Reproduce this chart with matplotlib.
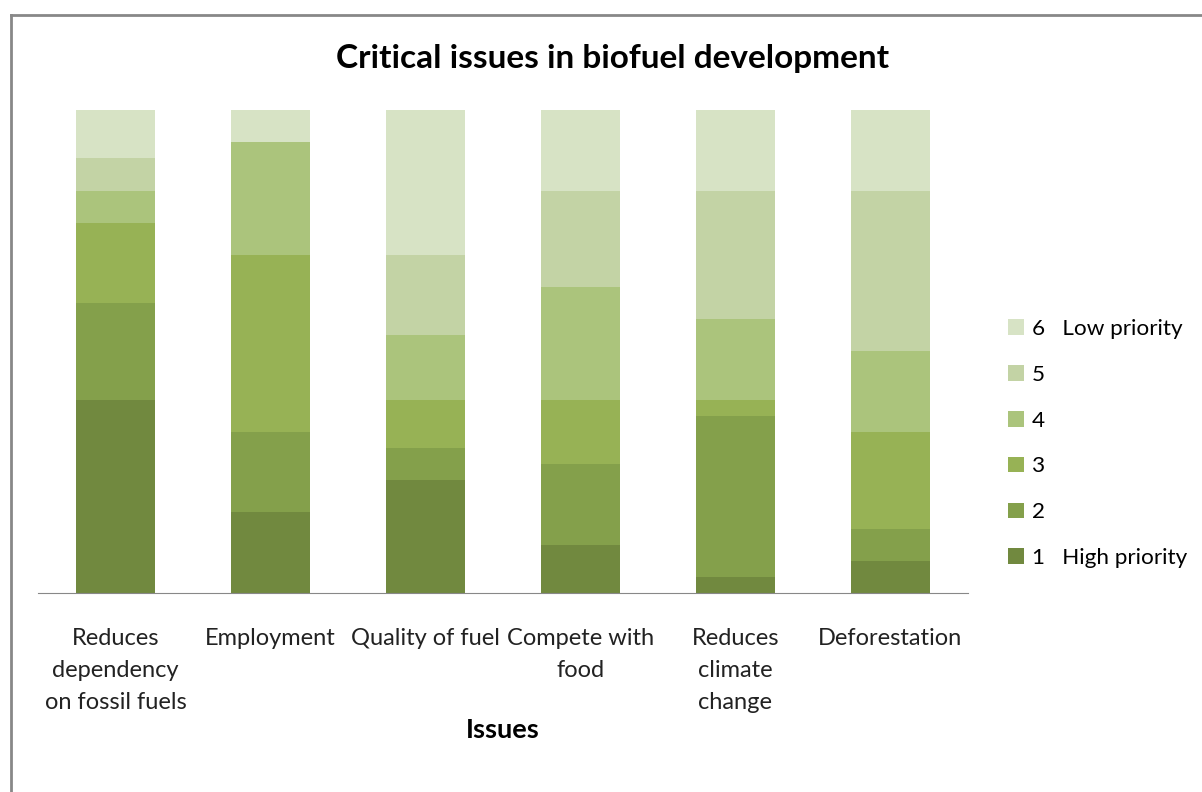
import matplotlib.pyplot as plt
from matplotlib.patches import Patch
import numpy as np

plt.rcParams['font.family'] = ['Lato', 'DejaVu Sans']

issues = ['Reduces\ndependency\non fossil fuels', 'Employment', 'Quality of fuel',
          'Compete with\nfood', 'Reduces\nclimate\nchange', 'Deforestation']

# responses per priority level (1 = high ... 6 = low), 30 respondents each
p1 = [12, 5, 7, 3, 1, 2]
p2 = [6, 5, 2, 5, 10, 2]
p3 = [5, 11, 3, 4, 1, 6]
p4 = [2, 7, 4, 7, 5, 5]
p5 = [2, 0, 5, 6, 8, 10]
p6 = [3, 2, 9, 5, 5, 5]

levels = [p1, p2, p3, p4, p5, p6]
labels = ['1   High priority', '2', '3', '4', '5', '6   Low priority']
colors = ['#71893F', '#84A04B', '#97B255', '#ABC47C', '#C3D3A5', '#D7E3C5']

fig = plt.figure(figsize=(12.02, 7.92), dpi=100)
ax = fig.add_axes([0.0316, 0.2513, 0.7737, 0.6098])

data = np.array(levels, dtype=float)
share = data / data.sum(axis=0)
x = np.arange(len(issues))
bottom = np.zeros(len(issues))
for vals, c in zip(share, colors):
    ax.bar(x, vals, bottom=bottom, width=0.51, color=c, edgecolor='none')
    bottom += vals

ax.set_xlim(-0.5, len(issues) - 0.5)
ax.set_ylim(0, 1)
ax.set_yticks([])
for s in ['top', 'right', 'left']:
    ax.spines[s].set_visible(False)
ax.spines['bottom'].set_color('#888888')
ax.set_xticks(x)
ax.set_xticklabels(issues, fontsize=17, color='#222222', linespacing=1.65)
ax.tick_params(axis='x', length=0, pad=25)
ax.set_xlabel('Issues', fontsize=19.5, fontweight='bold', labelpad=4)

fig.text(0.51, 0.926, 'Critical issues in biofuel development', ha='center', va='center',
         fontsize=24, fontweight='bold')

handles = [Patch(facecolor=c, edgecolor='none') for c in colors]
leg = fig.legend(handles[::-1], labels[::-1], loc='center left', bbox_to_anchor=(0.822, 0.44),
                 frameon=False, fontsize=16.2, labelspacing=1.15, handlelength=0.7,
                 handleheight=0.7, handletextpad=0.35)

# chart frame
fig.add_artist(plt.Line2D([0.009, 0.009], [0, 0.981], color='#888888', lw=2))
fig.add_artist(plt.Line2D([0.009, 1], [0.981, 0.981], color='#888888', lw=2))

fig.savefig('out.png', dpi=100)
